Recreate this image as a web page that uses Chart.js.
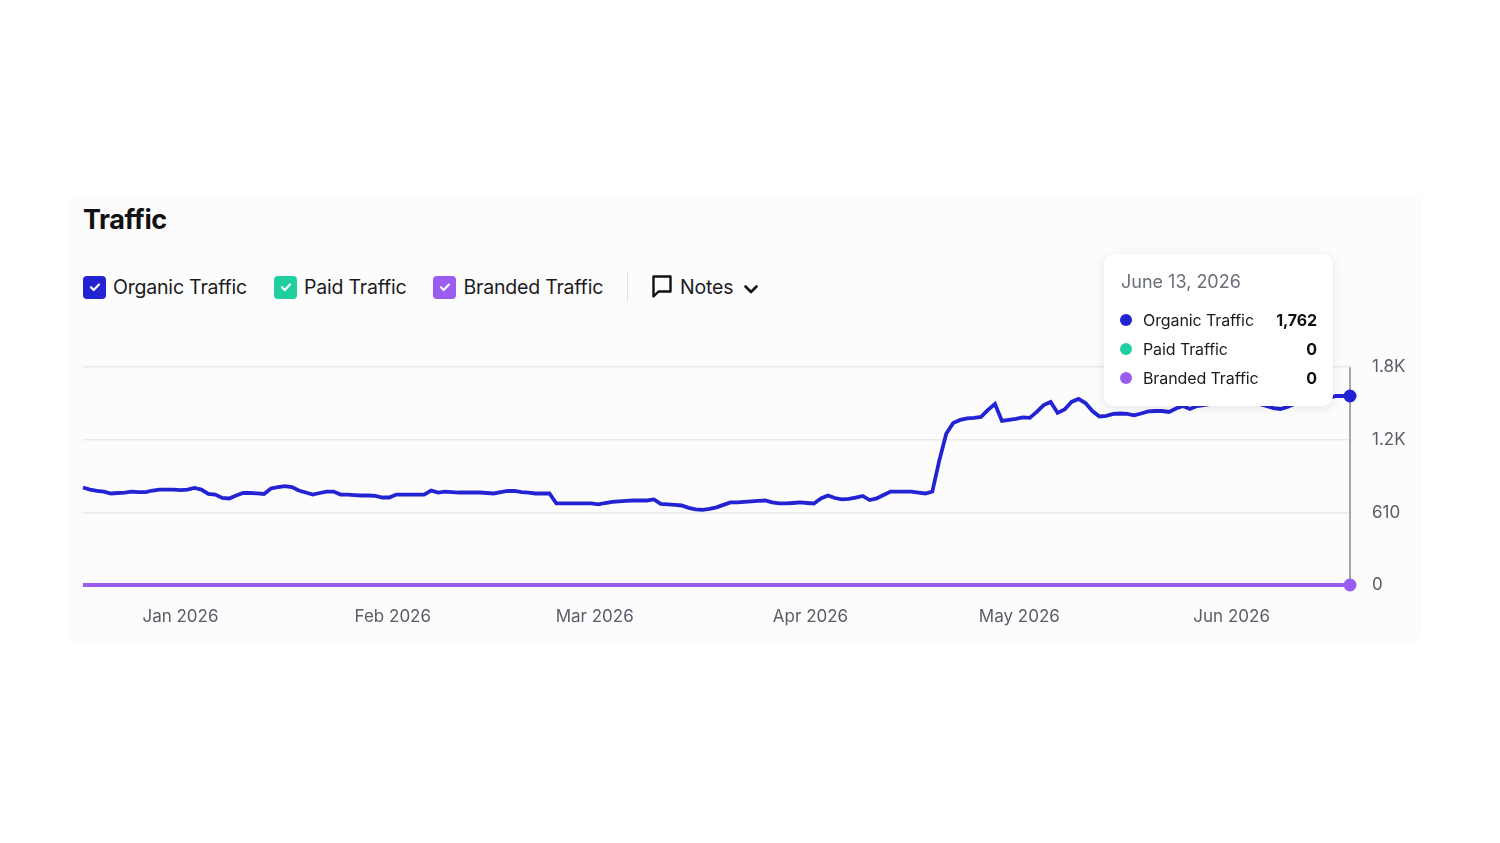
<!DOCTYPE html>
<html>
<head>
<meta charset="utf-8">
<script src="https://cdn.jsdelivr.net/npm/chart.js@4.4.1/dist/chart.umd.min.js"></script>
<style>
  html, body { margin: 0; padding: 0; background: #ffffff; }
  body { width: 1500px; height: 843px; position: relative; overflow: hidden; font-family: Inter, "Noto Sans", sans-serif; }
  .card { position: absolute; left: 68px; top: 196px; width: 1354px; height: 446px; background: #fcfcfd; border-radius: 6px; }
  .title { position: absolute; left: 83px; top: 203px; font-size: 27px; font-weight: 700; color: #111; letter-spacing: -0.4px; }
  .legend { position: absolute; left: 83px; top: 272px; height: 30px; display: flex; align-items: center; font-size: 19.5px; color: #1b1b1f; letter-spacing: -0.2px; }
  .legend .item { display: flex; align-items: center; margin-right: 27px; }
  .box { width: 23px; height: 23px; border-radius: 4px; margin-right: 7px; display: flex; align-items: center; justify-content: center; }
  .sep { width: 1px; height: 30px; background: #e3e3ea; margin: 0 23px 0 -3px; }
  .notes { display: flex; align-items: center; }
  #wrap { position: absolute; left: 0; top: 335px; width: 1500px; height: 310px; }
  #tip { position: absolute; display: none; width: 229px; height: 152px; box-sizing: border-box; background: #fff; border-radius: 10px;
         box-shadow: 0 2px 10px rgba(30, 30, 60, 0.10); padding: 17px 16px 0 17px; }
  #tip .date { font-size: 18px; color: #6b6f7b; margin-bottom: 13px; }
  #tip .row { display: flex; align-items: center; height: 29px; font-size: 16px; color: #1b1b1f; letter-spacing: -0.1px; }
  #tip .dot { width: 12px; height: 12px; border-radius: 50%; margin: 0 11px 0 -1px; }
  #tip .val { margin-left: auto; font-weight: 700; color: #111; }
</style>
</head>
<body>
<div class="card"></div>
<div class="title">Traffic</div>
<div class="legend" id="legend"></div>
<div id="wrap"><canvas id="trafficChart"></canvas></div>
<div id="tip"></div>
<script>
// 日付 (2025-12-18 起点の日数) と系列データ
const monthTicks = [14, 44.5, 73.5, 104.5, 134.5, 165];
const monthLabels = ['Jan 2026', 'Feb 2026', 'Mar 2026', 'Apr 2026', 'May 2026', 'Jun 2026'];
const yTicks = [0, 610, 1220, 1830];
const yTickLabels = ['0', '610', '1.2K', '1.8K'];

const seriesNames = ['Organic Traffic', 'Paid Traffic', 'Branded Traffic'];
const seriesColors = ['#2323d4', '#1fcf9f', '#9b5cf0'];

const organic = [
  819, 802, 790, 785, 769, 773, 777, 785, 781, 781,
  794, 802, 802, 802, 798, 802, 815, 802, 765, 760,
  731, 727, 752, 773, 773, 769, 765, 811, 823, 831,
  823, 794, 777, 760, 773, 785, 785, 760, 760, 756,
  752, 752, 748, 735, 735, 760, 760, 760, 760, 760,
  794, 777, 785, 781, 777, 777, 777, 777, 773, 769,
  781, 790, 790, 781, 777, 769, 769, 769, 685, 685,
  685, 685, 685, 685, 677, 689, 698, 702, 706, 710,
  710, 710, 719, 681, 677, 673, 668, 648, 635, 631,
  639, 652, 673, 694, 694, 698, 702, 706, 710, 694,
  685, 685, 689, 694, 689, 685, 727, 752, 731, 719,
  723, 735, 748, 714, 727, 756, 785, 785, 785, 785,
  777, 769, 785, 1045, 1270, 1362, 1387, 1400, 1404, 1412,
  1471, 1521, 1379, 1387, 1395, 1408, 1404, 1454, 1512, 1538,
  1446, 1475, 1538, 1563, 1529, 1462, 1416, 1421, 1437, 1441,
  1437, 1425, 1441, 1458, 1462, 1462, 1454, 1483, 1504, 1479,
  1504, 1512, 1521, 1538, 1546, 1538, 1554, 1546, 1529, 1521,
  1504, 1487, 1479, 1496, 1521, 1529, 1538, 1546, 1554, 1571,
  1588, 1588, 1588
];
const paid = organic.map(() => 0);
const branded = organic.map(() => 0);

// ツールチップに表示されている日付と値
const hoverIndex = organic.length - 1;
const tooltipDate = 'June 13, 2026';
const tooltipValues = [1762, 0, 0];

/**
 * 凡例（チェックボックス風）
 */
const checkSvg = '<svg width="14" height="14" viewBox="0 0 14 14"><path d="M3 7.3l2.7 2.7L11 4.5" fill="none" stroke="#fff" stroke-width="2.2" stroke-linecap="round" stroke-linejoin="round"/></svg>';
document.getElementById('legend').innerHTML = seriesNames.map((name, i) => `
  <div class="item"><div class="box" style="background:${seriesColors[i]}">${checkSvg}</div>${name}</div>
`).join('') + `
  <div class="sep"></div>
  <div class="notes">
    <svg width="22" height="26" viewBox="0 0 22 26" style="margin-right:7px"><path d="M2.5 2.5h17v15h-12l-5 5z" fill="none" stroke="#111" stroke-width="2.4" stroke-linejoin="round"/></svg>
    Notes
    <svg width="16" height="12" viewBox="0 0 16 12" style="margin-left:10px;margin-top:4px"><path d="M2.5 3.5l5.5 5.5 5.5-5.5" fill="none" stroke="#111" stroke-width="2.6" stroke-linecap="round" stroke-linejoin="round"/></svg>
  </div>`;

/**
 * ホバー位置の縦線
 */
const hoverLine = {
  id: 'hoverLine',
  beforeDatasetsDraw(chart) {
    const pt = chart.getDatasetMeta(0).data[hoverIndex];
    if (!pt) return;
    const { ctx, chartArea } = chart;
    ctx.save();
    ctx.strokeStyle = '#a3a5b0';
    ctx.lineWidth = 2;
    ctx.beginPath();
    ctx.moveTo(pt.x, chartArea.top);
    ctx.lineTo(pt.x, chartArea.bottom);
    ctx.stroke();
    ctx.restore();
  }
};

function externalTooltip(context) {
  const { chart, tooltip } = context;
  const el = document.getElementById('tip');
  if (tooltip.opacity === 0) { el.style.display = 'none'; return; }
  el.innerHTML = `<div class="date">${tooltipDate}</div>` + seriesNames.map((name, i) => `
    <div class="row"><div class="dot" style="background:${seriesColors[i]}"></div>${name}<span class="val">${tooltipValues[i].toLocaleString('en-US')}</span></div>
  `).join('');
  const rect = chart.canvas.getBoundingClientRect();
  el.style.display = 'block';
  el.style.left = (rect.left + tooltip.caretX - 246) + 'px';
  el.style.top = (rect.top + chart.chartArea.top - 113) + 'px';
}

const makeDataset = (label, data, color, radius, order) => ({
  label,
  data: data.map((v, i) => ({ x: i, y: v })),
  borderColor: color,
  backgroundColor: color,
  hoverBackgroundColor: color,
  borderWidth: 3.8,
  tension: 0,
  order,
  clip: false,
  pointRadius: ctx => ctx.dataIndex === hoverIndex ? radius : 0,
  pointHoverRadius: radius,
  pointBorderWidth: 0,
  pointHoverBorderWidth: 0
});

const chart = new Chart(document.getElementById('trafficChart'), {
  type: 'line',
  data: {
    datasets: [
      makeDataset(seriesNames[0], organic, seriesColors[0], 6.5, 0),
      makeDataset(seriesNames[1], paid, seriesColors[1], 0, 2),
      makeDataset(seriesNames[2], branded, seriesColors[2], 6.5, 1)
    ]
  },
  options: {
    responsive: true,
    maintainAspectRatio: false,
    animation: false,
    layout: { padding: { left: 83, top: 21, right: 0, bottom: 0 } },
    interaction: { mode: 'index', intersect: false },
    plugins: {
      legend: { display: false },
      tooltip: { enabled: false, external: externalTooltip }
    },
    scales: {
      x: {
        type: 'linear',
        min: 0,
        max: organic.length - 1,
        afterBuildTicks: s => { s.ticks = monthTicks.map(v => ({ value: v })); },
        afterFit: s => { s.height = 60; },
        ticks: {
          callback: v => monthLabels[monthTicks.indexOf(v)],
          color: '#5a5d68',
          font: { family: 'Inter', size: 17 },
          padding: 14,
          maxRotation: 0,
          autoSkip: false
        },
        grid: { display: false },
        border: { display: false }
      },
      y: {
        position: 'right',
        min: 0,
        max: 1830,
        afterBuildTicks: s => { s.ticks = yTicks.map(v => ({ value: v })); },
        afterFit: s => { s.width = 150; },
        ticks: {
          callback: v => yTickLabels[yTicks.indexOf(v)],
          color: '#5a5d68',
          font: { family: 'Inter', size: 17 },
          padding: 22,
          crossAlign: 'near'
        },
        grid: { color: '#e9e9ef', lineWidth: 1.5, drawTicks: false },
        border: { display: false }
      }
    }
  },
  plugins: [hoverLine]
});

const active = seriesNames.map((_, i) => ({ datasetIndex: i, index: hoverIndex }));
chart.setActiveElements(active);
chart.tooltip.setActiveElements(active, { x: 0, y: 0 });
chart.update();
</script>
</body>
</html>
